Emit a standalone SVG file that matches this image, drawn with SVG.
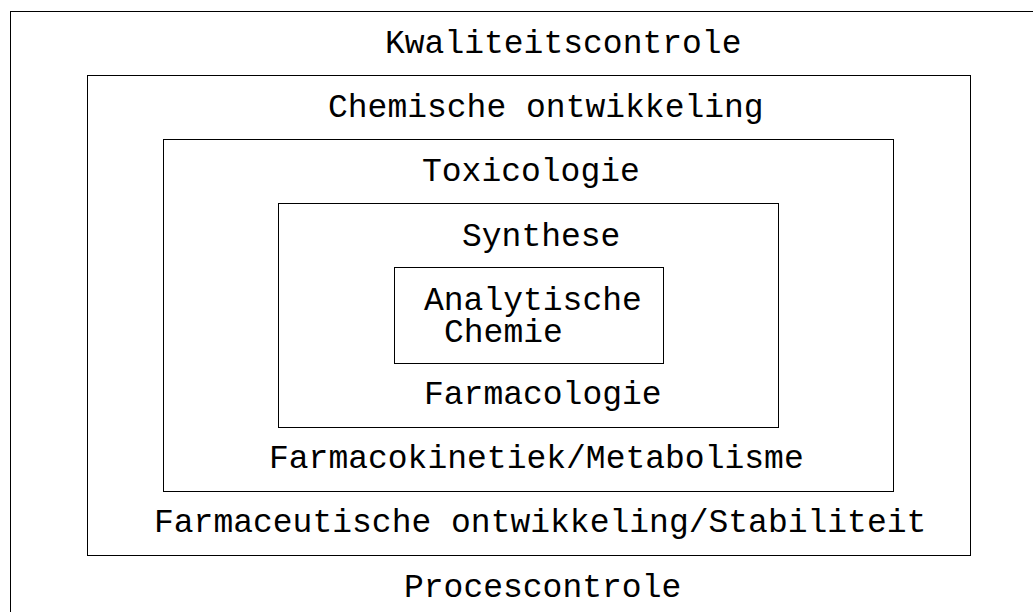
<svg xmlns="http://www.w3.org/2000/svg" width="1033" height="612" viewBox="0 0 1033 612">
<style>
.box{fill:none;stroke:#000;stroke-width:1}
.t{font-family:"Liberation Mono","Courier New",monospace;font-size:33px;fill:#000}
</style>
<rect width="1033" height="612" fill="#fff"/>
<g id="kwaliteitscontrole">
<rect class="box" x="10.5" y="11.5" width="1100" height="700"/>
<text class="t" x="385" y="53">Kwaliteitscontrole</text>
<text class="t" x="404" y="597">Procescontrole</text>
</g>
<g id="chemische-ontwikkeling">
<rect class="box" x="87.5" y="75.5" width="883" height="480"/>
<text class="t" x="328" y="117">Chemische ontwikkeling</text>
<text class="t" x="154" y="532">Farmaceutische ontwikkeling/Stabiliteit</text>
</g>
<g id="toxicologie">
<rect class="box" x="163.5" y="139.5" width="730" height="352"/>
<text class="t" x="422" y="181">Toxicologie</text>
<text class="t" x="269" y="468">Farmacokinetiek/Metabolisme</text>
</g>
<g id="synthese">
<rect class="box" x="278.5" y="203.5" width="500" height="224"/>
<text class="t" x="462" y="246">Synthese</text>
<text class="t" x="424" y="404">Farmacologie</text>
</g>
<g id="analytische-chemie">
<rect class="box" x="394.5" y="267.5" width="269" height="96"/>
<text class="t" x="424" y="310">Analytische</text>
<text class="t" x="444" y="342">Chemie</text>
</g>
<g id="connectors"/>
</svg>
